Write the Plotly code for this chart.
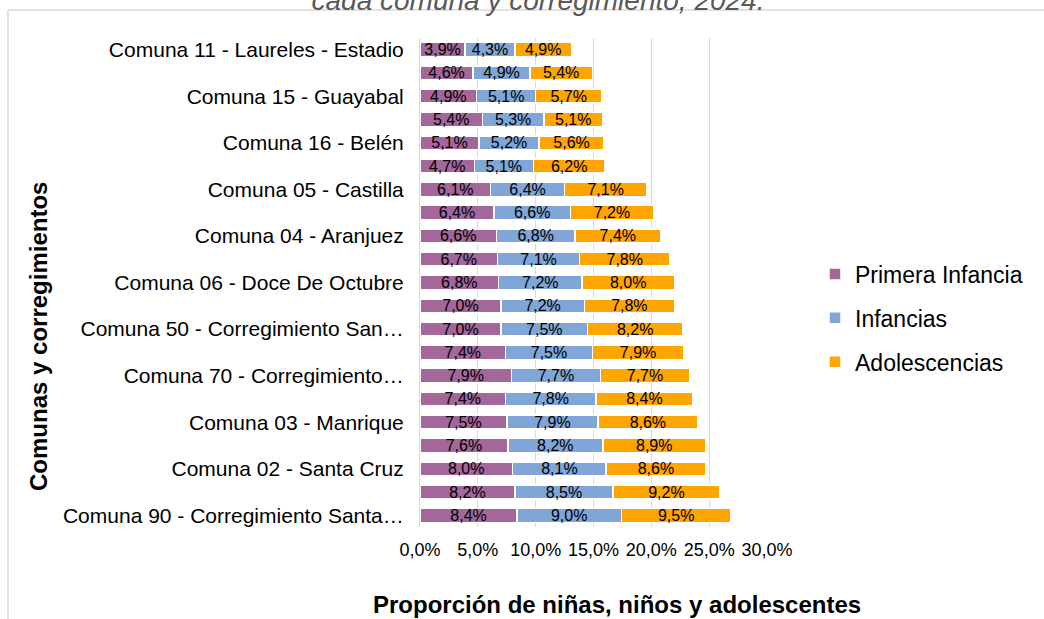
import plotly.graph_objects as go

# -----------------------------------------------------------------------------
# Data (percent of children and adolescents per comuna / corregimiento)
# -----------------------------------------------------------------------------
comunas = [
    "Comuna 11 - Laureles - Estadio",
    "Comuna 14 - El Poblado",
    "Comuna 15 - Guayabal",
    "Comuna 12 - La América",
    "Comuna 16 - Belén",
    "Comuna 10 - La Candelaria",
    "Comuna 05 - Castilla",
    "Comuna 09 - Buenos Aires",
    "Comuna 04 - Aranjuez",
    "Comuna 13 - San Javier",
    "Comuna 06 - Doce De Octubre",
    "Comuna 80 - Corregimiento San Antonio de Prado",
    "Comuna 50 - Corregimiento San Sebastián de Palmitas",
    "Comuna 60 - Corregimiento San Cristóbal",
    "Comuna 70 - Corregimiento Altavista",
    "Comuna 07 - Robledo",
    "Comuna 03 - Manrique",
    "Comuna 08 - Villa Hermosa",
    "Comuna 02 - Santa Cruz",
    "Comuna 01 - Popular",
    "Comuna 90 - Corregimiento Santa Elena",
]

primera_infancia = [3.9, 4.6, 4.9, 5.4, 5.1, 4.7, 6.1, 6.4, 6.6, 6.7, 6.8,
                    7.0, 7.0, 7.4, 7.9, 7.4, 7.5, 7.6, 8.0, 8.2, 8.4]
infancias = [4.3, 4.9, 5.1, 5.3, 5.2, 5.1, 6.4, 6.6, 6.8, 7.1, 7.2,
             7.2, 7.5, 7.5, 7.7, 7.8, 7.9, 8.2, 8.1, 8.5, 9.0]
adolescencias = [4.9, 5.4, 5.7, 5.1, 5.6, 6.2, 7.1, 7.2, 7.4, 7.8, 8.0,
                 7.8, 8.2, 7.9, 7.7, 8.4, 8.6, 8.9, 8.6, 9.2, 9.5]

# only every other category gets a visible label (as in the source chart)
shown_ticks = comunas[::2]
shown_text = [
    "Comuna 11 - Laureles - Estadio",
    "Comuna 15 - Guayabal",
    "Comuna 16 - Belén",
    "Comuna 05 - Castilla",
    "Comuna 04 - Aranjuez",
    "Comuna 06 - Doce De Octubre",
    "Comuna 50 - Corregimiento San…",
    "Comuna 70 - Corregimiento…",
    "Comuna 03 - Manrique",
    "Comuna 02 - Santa Cruz",
    "Comuna 90 - Corregimiento Santa…",
]

x_ticks = [0, 5, 10, 15, 20, 25, 30]

series = [
    ("Primera Infancia", primera_infancia, "#A3679A"),
    ("Infancias", infancias, "#7FA6D7"),
    ("Adolescencias", adolescencias, "#FFA500"),
]

FONT = "Liberation Sans, Arial, sans-serif"

fig = go.Figure()
for i, (name, vals, color) in enumerate(series):
    fig.add_trace(go.Bar(
        y=comunas, x=vals,
        orientation="h",
        name=name,
        legendgroup=f"g{i}",
        marker=dict(color=color, line=dict(color="white", width=1.5)),
        texttemplate="%{x:.1f}%",
        textposition="inside",
        insidetextanchor="middle",
        constraintext="none",
        textfont=dict(family=FONT, size=16, color="#000000"),
        hoverinfo="name+x+y",
    ))

# plot area: x 420..767 px, y 38..527 px
def px_x(p):
    return (p - 420) / 347.0

def px_y(p):
    return (527 - p) / 489.0

fig.update_layout(
    width=1044, height=619,
    barmode="stack",
    bargap=0.4,
    separators=", ",
    paper_bgcolor="white",
    plot_bgcolor="white",
    margin=dict(l=420, r=277, t=38, b=92, autoexpand=False),
    font=dict(family=FONT, color="#000000"),
    title=dict(
        text="<i>cada comuna y corregimiento, 2024.</i>",
        font=dict(family=FONT, size=28, color="#595959"),
        x=538 / 1044, xanchor="center",
        y=1, yanchor="middle",
        yref="container", xref="container",
    ),
    xaxis=dict(
        range=[0, 30],
        tickvals=x_ticks,
        ticktext=[f"{v:.1f}%".replace(".", ",") for v in x_ticks],
        showgrid=True, gridcolor="#d9d9d9", gridwidth=1,
        zeroline=False, showline=False,
        ticks="", ticklabelstandoff=10,
        tickfont=dict(family=FONT, size=18, color="#000000"),
        fixedrange=True,
    ),
    yaxis=dict(
        autorange="reversed",
        tickvals=shown_ticks,
        ticktext=shown_text,
        showgrid=False,
        showline=True, linecolor="#d9d9d9", linewidth=1,
        ticks="", ticklabelstandoff=11,
        tickfont=dict(family=FONT, size=21, color="#000000"),
        fixedrange=True,
    ),
    legend=dict(
        x=px_x(815), xanchor="left",
        y=px_y(318), yanchor="middle",
        traceorder="grouped",
        tracegroupgap=11,
        font=dict(family=FONT, size=23, color="#000000"),
        bgcolor="rgba(0,0,0,0)",
    ),
    showlegend=True,
)

# axis titles placed as annotations (offset from plot centre in the source)
fig.add_annotation(
    text="<b>Proporción de niñas, niños y adolescentes</b>",
    xref="paper", yref="paper",
    x=px_x(617), y=px_y(604),
    xanchor="center", yanchor="middle",
    showarrow=False,
    font=dict(family=FONT, size=24, color="#000000"),
)
fig.add_annotation(
    text="<b>Comunas y corregimientos</b>",
    xref="paper", yref="paper",
    x=px_x(38), y=px_y(337),
    xanchor="center", yanchor="middle",
    textangle=-90,
    showarrow=False,
    font=dict(family=FONT, size=24, color="#000000"),
)

# light chart-area frame (top and left edges are visible in the source)
fig.add_shape(type="line", xref="paper", yref="paper",
              x0=px_x(8), x1=px_x(1050), y0=px_y(10), y1=px_y(10),
              line=dict(color="#d9d9d9", width=1.5), layer="below")
fig.add_shape(type="line", xref="paper", yref="paper",
              x0=px_x(8), x1=px_x(8), y0=px_y(10), y1=px_y(625),
              line=dict(color="#d9d9d9", width=1.5), layer="below")

# drop the default 8px page margin so the figure fills the window
fig.write_html("out.html", config={"displayModeBar": False},
               post_script="document.body.style.margin = '0';")
